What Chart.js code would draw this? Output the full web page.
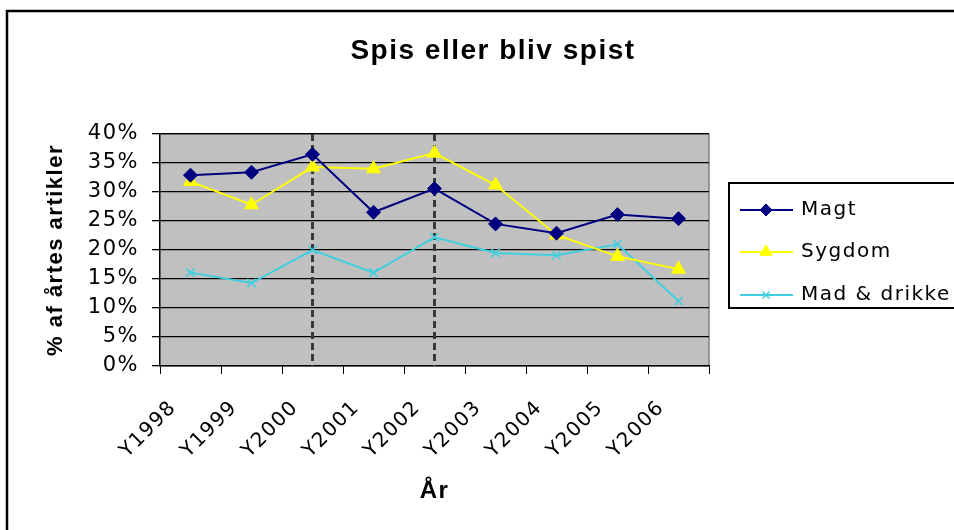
<!DOCTYPE html>
<html>
<head>
<meta charset="utf-8">
<title>Spis eller bliv spist</title>
<script src="https://cdn.jsdelivr.net/npm/chart.js@4"></script>
<style>
  html, body { margin: 0; padding: 0; background: #fff; }
  canvas { display: block; }
</style>
</head>
<body>
<canvas id="myChart" width="954" height="530"></canvas>
<script>
// data
const years = ['Y1998', 'Y1999', 'Y2000', 'Y2001', 'Y2002', 'Y2003', 'Y2004', 'Y2005', 'Y2006'];
const magt = [32.9, 33.4, 36.5, 26.5, 30.6, 24.5, 22.9, 26.1, 25.4];
const sygdom = [31.8, 27.8, 34.3, 34.0, 36.7, 31.2, 22.6, 18.9, 16.7];
const madDrikke = [16.1, 14.3, 20.0, 16.1, 22.2, 19.5, 19.1, 21.0, 11.2];
const markedYears = ['Y2000', 'Y2002']; // stiplede lodrette linjer

const titleText = 'Spis eller bliv spist';
const yTitle = '% af årtes artikler';
const xTitle = 'År';

Chart.defaults.color = '#000';

// baggrund, ramme, titel, stiplede linjer og forklaring
const excelLook = {
    id: 'excelLook',
    beforeDraw(chart) {
        const ctx = chart.ctx;
        const a = chart.chartArea;
        ctx.letterSpacing = '1.5px';
        ctx.save();
        ctx.fillStyle = '#fff';
        ctx.fillRect(0, 0, chart.width, chart.height);
        ctx.strokeStyle = '#000';
        ctx.lineWidth = 2.5;
        ctx.strokeRect(7, 11, 1000, 600);
        ctx.fillStyle = '#c0c0c0';
        ctx.fillRect(a.left, a.top, a.right - a.left, a.bottom - a.top);
        ctx.strokeStyle = '#808080';
        ctx.lineWidth = 1.5;
        ctx.beginPath();
        ctx.moveTo(a.left, a.top);
        ctx.lineTo(a.right, a.top);
        ctx.lineTo(a.right, a.bottom);
        ctx.stroke();
        // titel
        ctx.fillStyle = '#000';
        ctx.font = 'bold 28px "Liberation Sans", Arial, sans-serif';
        ctx.textAlign = 'center';
        ctx.textBaseline = 'middle';
        ctx.fillText(titleText, 493, 51);
        ctx.restore();
    },
    beforeDatasetsDraw(chart) {
        const ctx = chart.ctx;
        const a = chart.chartArea;
        const x = chart.scales.x;
        ctx.save();
        ctx.strokeStyle = '#383838';
        ctx.lineWidth = 3;
        ctx.setLineDash([7, 4]);
        markedYears.forEach(y => {
            const px = x.getPixelForValue(years.indexOf(y));
            ctx.beginPath();
            ctx.moveTo(px, a.top);
            ctx.lineTo(px, a.bottom);
            ctx.stroke();
        });
        ctx.restore();
    },
    afterDraw(chart) {
        const ctx = chart.ctx;
        ctx.save();
        ctx.strokeStyle = '#000';
        ctx.lineWidth = 2;
        ctx.strokeRect(729, 183, 260, 125);
        const rows = [210, 252, 295];
        chart.data.datasets.forEach((ds, i) => {
            const y = rows[i];
            ctx.strokeStyle = ds.borderColor;
            ctx.lineWidth = 2;
            ctx.beginPath();
            ctx.moveTo(740, y);
            ctx.lineTo(793, y);
            ctx.stroke();
            ctx.fillStyle = ds.pointBackgroundColor;
            ctx.strokeStyle = ds.pointBorderColor;
            ctx.lineWidth = ds.pointBorderWidth;
            Chart.helpers.drawPoint(ctx, {
                pointStyle: ds.pointStyle,
                radius: ds.pointRadius - 1,
                rotation: 0,
                borderWidth: ds.pointBorderWidth
            }, 766, y);
            ctx.fillStyle = '#000';
            ctx.font = '20px "DejaVu Sans"';
            ctx.textBaseline = 'middle';
            ctx.textAlign = 'left';
            ctx.fillText(ds.label, 801, y);
        });
        ctx.restore();
    }
};

const ctx = document.getElementById('myChart').getContext('2d');
new Chart(ctx, {
    type: 'line',
    data: {
        labels: years,
        datasets: [
            {
                label: 'Magt',
                data: magt,
                borderColor: '#000080',
                borderWidth: 2,
                pointStyle: 'rectRot',
                pointRadius: 7,
                pointBackgroundColor: '#000080',
                pointBorderColor: '#000080',
                pointBorderWidth: 1,
                tension: 0
            },
            {
                label: 'Sygdom',
                data: sygdom,
                borderColor: '#ffff00',
                borderWidth: 2,
                pointStyle: 'triangle',
                pointRadius: 8,
                pointBackgroundColor: '#ffff00',
                pointBorderColor: '#ffff00',
                pointBorderWidth: 1,
                tension: 0
            },
            {
                label: 'Mad & drikke',
                data: madDrikke,
                borderColor: '#40cfdf',
                borderWidth: 2,
                pointStyle: 'crossRot',
                pointRadius: 6,
                pointBackgroundColor: '#40cfdf',
                pointBorderColor: '#40cfdf',
                pointBorderWidth: 1.5,
                tension: 0
            }
        ]
    },
    options: {
        responsive: false,
        animation: false,
        layout: { padding: { left: 38, right: 245, top: 134, bottom: 20 } },
        plugins: {
            legend: { display: false },
            tooltip: { enabled: false },
            title: { display: false }
        },
        scales: {
            x: {
                offset: true,
                afterFit(scale) { scale.height = 530 - 20 - 366; },
                grid: { offset: true, drawOnChartArea: false, tickLength: 8, color: '#000', lineWidth: 1 },
                border: { display: true, color: '#000', width: 1.5 },
                ticks: {
                    autoSkip: false,
                    minRotation: 45,
                    maxRotation: 45,
                    padding: 22,
                    labelOffset: -17,
                    font: { family: '"DejaVu Sans"', size: 20 },
                    color: '#000'
                },
                title: {
                    display: true,
                    text: xTitle,
                    color: '#000',
                    font: { family: '"Liberation Sans", Arial, sans-serif', size: 24, weight: 'bold' },
                    padding: { top: 0, bottom: 4 }
                }
            },
            y: {
                min: 0,
                max: 40,
                afterFit(scale) { scale.width = 160 - 38; },
                grid: { color: '#000', lineWidth: 1.3, tickLength: 8 },
                border: { display: true, color: '#000', width: 1.5 },
                ticks: {
                    stepSize: 5,
                    padding: 13,
                    font: { family: '"DejaVu Sans"', size: 21 },
                    color: '#000',
                    callback: v => v + '%'
                },
                title: {
                    display: true,
                    text: yTitle,
                    color: '#000',
                    font: { family: '"Liberation Sans", Arial, sans-serif', size: 22, weight: 'bold' },
                    padding: { top: 5, bottom: 0 }
                }
            }
        }
    },
    plugins: [excelLook]
});
</script>
</body>
</html>
